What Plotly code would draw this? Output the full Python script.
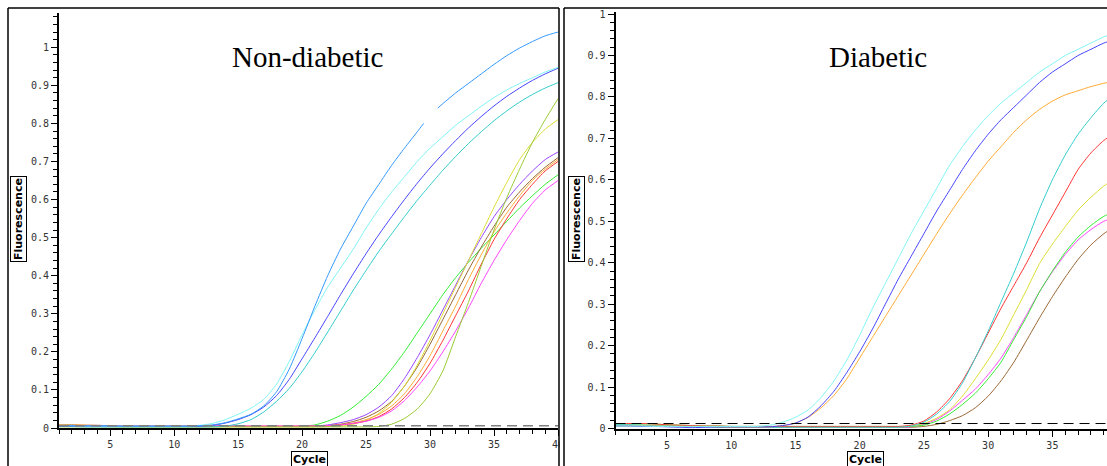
import plotly.graph_objects as go

# qPCR amplification curves (fluorescence per cycle)
cycles = list(range(1, 41))

# Non-diabetic panel
# the sky-blue trace has a short break between ~29.5 and ~30.6
nd_dodger_cycles = list(range(1, 30)) + [29.5, None, 30.6] + list(range(31, 41))
nd_dodger = [0.007, 0.007, 0.006, 0.006, 0.006, 0.005, 0.005, 0.005, 0.005, 0.005,
             0.005, 0.006, 0.008, 0.014, 0.024, 0.036, 0.058, 0.095, 0.155, 0.235,
             0.32, 0.4, 0.47, 0.53, 0.59, 0.64, 0.69, 0.735, 0.778, 0.8, None, 0.84,
             0.852, 0.88, 0.905, 0.93, 0.955, 0.978, 0.998, 1.015, 1.03, 1.04]
nd_lightcyan = [0.006, 0.006, 0.005, 0.005, 0.005, 0.005, 0.005, 0.005, 0.005, 0.005,
                0.005, 0.007, 0.012, 0.022, 0.036, 0.052, 0.075, 0.115, 0.175, 0.245,
                0.31, 0.37, 0.42, 0.47, 0.525, 0.575, 0.62, 0.66, 0.7, 0.735,
                0.765, 0.795, 0.82, 0.845, 0.868, 0.888, 0.905, 0.92, 0.935, 0.947]
nd_blue = [0.005, 0.005, 0.004, 0.004, 0.004, 0.004, 0.004, 0.004, 0.004, 0.004,
           0.004, 0.005, 0.007, 0.013, 0.022, 0.035, 0.055, 0.085, 0.128, 0.182,
           0.237, 0.293, 0.35, 0.405, 0.458, 0.508, 0.555, 0.6, 0.643, 0.683,
           0.72, 0.755, 0.788, 0.818, 0.846, 0.871, 0.893, 0.913, 0.93, 0.945]
nd_turq = [0.004, 0.004, 0.003, 0.003, 0.003, 0.003, 0.003, 0.003, 0.003, 0.003,
           0.003, 0.003, 0.003, 0.005, 0.011, 0.022, 0.042, 0.07, 0.104, 0.148,
           0.198, 0.252, 0.307, 0.362, 0.414, 0.464, 0.51, 0.555, 0.598, 0.638,
           0.677, 0.713, 0.747, 0.778, 0.807, 0.833, 0.856, 0.876, 0.893, 0.907]
nd_green = [0.005, 0.005, 0.004, 0.004, 0.004, 0.004, 0.004, 0.004, 0.004, 0.004,
            0.004, 0.004, 0.004, 0.004, 0.004, 0.004, 0.004, 0.004, 0.004, 0.005,
            0.008, 0.018, 0.033, 0.055, 0.083, 0.115, 0.155, 0.2, 0.25, 0.3,
            0.35, 0.395, 0.435, 0.472, 0.507, 0.543, 0.578, 0.61, 0.64, 0.665]
nd_purple = [0.008, 0.008, 0.007, 0.007, 0.006, 0.006, 0.006, 0.006, 0.005, 0.005,
             0.005, 0.005, 0.005, 0.005, 0.005, 0.004, 0.004, 0.004, 0.004, 0.004,
             0.005, 0.008, 0.014, 0.022, 0.035, 0.055, 0.085, 0.13, 0.185, 0.245,
             0.31, 0.375, 0.44, 0.5, 0.555, 0.6, 0.64, 0.675, 0.705, 0.725]
nd_brown = [0.006, 0.006, 0.006, 0.005, 0.005, 0.005, 0.005, 0.005, 0.005, 0.005,
            0.005, 0.004, 0.004, 0.004, 0.004, 0.004, 0.004, 0.004, 0.004, 0.004,
            0.004, 0.006, 0.01, 0.017, 0.028, 0.045, 0.07, 0.11, 0.16, 0.22,
            0.285, 0.35, 0.415, 0.475, 0.53, 0.58, 0.62, 0.655, 0.685, 0.71]
nd_yellow = [0.004, 0.004, 0.004, 0.004, 0.004, 0.003, 0.003, 0.003, 0.003, 0.003,
             0.003, 0.003, 0.003, 0.003, 0.003, 0.003, 0.003, 0.003, 0.003, 0.003,
             0.003, 0.004, 0.005, 0.01, 0.02, 0.038, 0.068, 0.11, 0.165, 0.23,
             0.3, 0.37, 0.44, 0.51, 0.58, 0.645, 0.705, 0.75, 0.785, 0.81]
nd_orange = [0.009, 0.009, 0.008, 0.007, 0.006, 0.006, 0.005, 0.005, 0.005, 0.005,
             0.005, 0.004, 0.004, 0.004, 0.004, 0.004, 0.004, 0.004, 0.004, 0.004,
             0.004, 0.005, 0.008, 0.013, 0.022, 0.036, 0.058, 0.09, 0.135, 0.19,
             0.255, 0.32, 0.39, 0.455, 0.515, 0.565, 0.61, 0.65, 0.68, 0.705]
nd_red = [0.005, 0.005, 0.005, 0.005, 0.005, 0.005, 0.005, 0.005, 0.005, 0.005,
          0.005, 0.005, 0.005, 0.005, 0.005, 0.005, 0.005, 0.005, 0.005, 0.005,
          0.005, 0.006, 0.008, 0.012, 0.018, 0.03, 0.05, 0.08, 0.12, 0.17,
          0.23, 0.295, 0.36, 0.43, 0.495, 0.55, 0.6, 0.64, 0.675, 0.7]
nd_magenta = [0.006, 0.006, 0.005, 0.005, 0.005, 0.005, 0.005, 0.005, 0.005, 0.005,
              0.005, 0.005, 0.005, 0.005, 0.005, 0.005, 0.005, 0.005, 0.005, 0.005,
              0.005, 0.006, 0.008, 0.012, 0.018, 0.028, 0.045, 0.072, 0.108, 0.15,
              0.2, 0.255, 0.315, 0.38, 0.44, 0.495, 0.545, 0.59, 0.625, 0.65]
nd_olive = [0.003, 0.003, 0.003, 0.003, 0.003, 0.003, 0.003, 0.003, 0.003, 0.003,
            0.003, 0.003, 0.003, 0.003, 0.003, 0.003, 0.003, 0.003, 0.003, 0.003,
            0.003, 0.003, 0.003, 0.003, 0.003, 0.004, 0.01, 0.025, 0.05, 0.09,
            0.15, 0.24, 0.33, 0.425, 0.52, 0.605, 0.68, 0.75, 0.81, 0.865]
nd_threshold = 0.006

# Diabetic panel
db_lightcyan = [0.006, 0.006, 0.006, 0.005, 0.005, 0.005, 0.005, 0.005, 0.005, 0.005,
                0.005, 0.005, 0.008, 0.015, 0.027, 0.045, 0.075, 0.115, 0.165, 0.225,
                0.29, 0.35, 0.41, 0.47, 0.525, 0.58, 0.635, 0.68, 0.72, 0.755,
                0.785, 0.81, 0.835, 0.86, 0.88, 0.9, 0.915, 0.93, 0.945, 0.955]
db_blue = [0.006, 0.006, 0.005, 0.005, 0.004, 0.003, 0.002, 0.003, 0.004, 0.004,
           0.004, 0.004, 0.004, 0.007, 0.013, 0.028, 0.055, 0.09, 0.135, 0.185,
           0.24, 0.3, 0.36, 0.415, 0.47, 0.525, 0.575, 0.625, 0.67, 0.71,
           0.745, 0.775, 0.805, 0.835, 0.86, 0.88, 0.9, 0.915, 0.93, 0.94]
db_orange = [0.006, 0.006, 0.006, 0.006, 0.005, 0.005, 0.005, 0.005, 0.005, 0.004,
             0.004, 0.004, 0.004, 0.007, 0.013, 0.027, 0.05, 0.08, 0.12, 0.17,
             0.22, 0.27, 0.32, 0.37, 0.42, 0.47, 0.518, 0.563, 0.605, 0.645,
             0.68, 0.715, 0.745, 0.77, 0.79, 0.805, 0.815, 0.825, 0.833, 0.84]
db_turq = [0.009, 0.009, 0.008, 0.007, 0.006, 0.005, 0.005, 0.004, 0.004, 0.004,
           0.004, 0.004, 0.003, 0.003, 0.003, 0.003, 0.003, 0.003, 0.003, 0.003,
           0.003, 0.003, 0.003, 0.006, 0.015, 0.035, 0.065, 0.11, 0.17, 0.235,
           0.305, 0.375, 0.45, 0.53, 0.6, 0.66, 0.71, 0.75, 0.785, 0.81]
db_red = [0.012, 0.012, 0.012, 0.011, 0.009, 0.008, 0.007, 0.006, 0.006, 0.005,
          0.005, 0.005, 0.005, 0.005, 0.005, 0.005, 0.005, 0.005, 0.005, 0.005,
          0.005, 0.005, 0.005, 0.008, 0.018, 0.04, 0.072, 0.115, 0.17, 0.23,
          0.29, 0.345, 0.4, 0.46, 0.515, 0.57, 0.625, 0.665, 0.695, 0.715]
db_yellow = [0.008, 0.008, 0.008, 0.007, 0.006, 0.006, 0.005, 0.005, 0.005, 0.004,
             0.004, 0.004, 0.004, 0.004, 0.004, 0.004, 0.004, 0.004, 0.004, 0.004,
             0.004, 0.004, 0.004, 0.006, 0.012, 0.025, 0.045, 0.078, 0.12, 0.165,
             0.215, 0.275, 0.335, 0.398, 0.445, 0.487, 0.527, 0.558, 0.585, 0.605]
db_green = [0.011, 0.011, 0.011, 0.011, 0.009, 0.008, 0.007, 0.006, 0.006, 0.005,
            0.005, 0.005, 0.005, 0.005, 0.005, 0.005, 0.005, 0.005, 0.005, 0.005,
            0.005, 0.005, 0.005, 0.005, 0.008, 0.018, 0.035, 0.058, 0.085, 0.12,
            0.16, 0.215, 0.27, 0.33, 0.38, 0.425, 0.462, 0.49, 0.512, 0.525]
db_magenta = [0.007, 0.007, 0.006, 0.006, 0.005, 0.005, 0.005, 0.005, 0.005, 0.004,
              0.004, 0.004, 0.004, 0.004, 0.004, 0.004, 0.004, 0.004, 0.004, 0.004,
              0.004, 0.004, 0.004, 0.004, 0.01, 0.022, 0.042, 0.068, 0.095, 0.13,
              0.17, 0.22, 0.275, 0.33, 0.378, 0.42, 0.455, 0.48, 0.5, 0.51]
db_brown = [0.007, 0.007, 0.007, 0.006, 0.006, 0.005, 0.005, 0.005, 0.003, 0.003,
            0.003, 0.003, 0.003, 0.003, 0.003, 0.003, 0.003, 0.003, 0.003, 0.003,
            0.003, 0.003, 0.003, 0.003, 0.005, 0.01, 0.019, 0.031, 0.05, 0.078,
            0.115, 0.16, 0.213, 0.267, 0.318, 0.365, 0.408, 0.443, 0.47, 0.49]
db_threshold = 0.012

nd_series = [(nd_green, "#33ee33"), (nd_purple, "#9944ff"), (nd_brown, "#996633"),
             (nd_yellow, "#dddd33"), (nd_orange, "#ffaa33"), (nd_red, "#ff3333"),
             (nd_magenta, "#ff44ff"), (nd_olive, "#99cc33"), (nd_turq, "#33cccc"),
             (nd_blue, "#4444ff"), (nd_lightcyan, "#80f4f4")]
db_series = [(db_brown, "#996633"), (db_magenta, "#ff44ff"), (db_green, "#33ee33"),
             (db_yellow, "#dddd33"), (db_red, "#ff3333"), (db_turq, "#33cccc"),
             (db_orange, "#ffaa33"), (db_blue, "#4444ff"), (db_lightcyan, "#80f4f4")]

W, H = 1107, 466

fig = go.Figure()

for vals, col in nd_series:
    fig.add_trace(go.Scatter(x=cycles, y=vals, mode="lines",
                             line=dict(color=col, width=1, shape="spline", smoothing=0.6),
                             xaxis="x", yaxis="y", showlegend=False))
fig.add_trace(go.Scatter(x=nd_dodger_cycles, y=nd_dodger, mode="lines",
                         line=dict(color="#3399ff", width=1, shape="spline", smoothing=0.6),
                         xaxis="x", yaxis="y", showlegend=False, connectgaps=False))
fig.add_trace(go.Scatter(x=[1, 40], y=[nd_threshold, nd_threshold], mode="lines",
                         line=dict(color="#808080", width=1.5, dash="10px,6px"),
                         xaxis="x", yaxis="y", showlegend=False))

for vals, col in db_series:
    fig.add_trace(go.Scatter(x=cycles, y=vals, mode="lines",
                             line=dict(color=col, width=1, shape="spline", smoothing=0.6),
                             xaxis="x2", yaxis="y2", showlegend=False))
fig.add_trace(go.Scatter(x=[1, 40], y=[db_threshold, db_threshold], mode="lines",
                         line=dict(color="black", width=1, dash="10px,6px"),
                         xaxis="x2", yaxis="y2", showlegend=False))

tick_font = dict(family="DejaVu Sans Mono", size=10, color="#333")
yticks = [0, 0.1, 0.2, 0.3, 0.4, 0.5, 0.6, 0.7, 0.8, 0.9, 1]
ylabels = ["0", "0.1", "0.2", "0.3", "0.4", "0.5", "0.6", "0.7", "0.8", "0.9", "1"]

def xax(domain, rng):
    return dict(domain=domain, range=rng, automargin=False, showline=True, linecolor="black",
                linewidth=2, ticks="outside", ticklen=6, tickcolor="black", tickwidth=1,
                tick0=0, dtick=5, tickfont=tick_font, showgrid=False, zeroline=False,
                minor=dict(ticks="outside", ticklen=4, dtick=1, tick0=0, tickcolor="black", showgrid=False))

def yax(domain, rng):
    return dict(domain=domain, range=rng, automargin=False, showline=True, linecolor="black",
                linewidth=2, ticks="outside", ticklen=6, tickcolor="black", tickwidth=1,
                tickvals=yticks, ticktext=ylabels, tickfont=tick_font,
                showgrid=False, zeroline=False,
                minor=dict(ticks="outside", ticklen=4, dtick=0.02, tick0=0, tickcolor="black", showgrid=False))

fig.update_layout(
    width=W, height=H,
    margin=dict(l=0, r=0, t=0, b=0, pad=0),
    paper_bgcolor="white", plot_bgcolor="white",
    xaxis=dict(xax([59 / W, 558 / W], [1, 40]), anchor="y"),
    yaxis=dict(yax([(H - 428) / H, (H - 13) / H], [0, 1.09]), anchor="x"),
    xaxis2=dict(xax([615.5 / W, 1], [1, 39.25]), anchor="y2"),
    yaxis2=dict(yax([(H - 428.5) / H, (H - 12) / H], [0, 1.005]), anchor="x2"),
)

def px(x, y):
    return x / W, 1 - y / H

annots = []
for text, cx in [("Non-diabetic", 307), ("Diabetic", 877.5)]:
    ax_, ay_ = px(cx, 57)
    annots.append(dict(text=text, x=ax_, y=ay_, xref="paper", yref="paper", showarrow=False,
                       xanchor="center", yanchor="middle",
                       font=dict(family="Liberation Serif", size=29, color="black")))
for cx in [309, 865]:
    ax_, ay_ = px(cx, 459)
    annots.append(dict(text="<b>Cycle</b>", x=ax_, y=ay_, xref="paper", yref="paper",
                       showarrow=False, xanchor="center", yanchor="middle",
                       font=dict(family="DejaVu Sans", size=11, color="black"),
                       bordercolor="black", borderwidth=1, borderpad=1))
for cx in [18, 576]:
    ax_, ay_ = px(cx, 219)
    annots.append(dict(text="<b>Fluorescence</b>", x=ax_, y=ay_, xref="paper", yref="paper",
                       showarrow=False, xanchor="center", yanchor="middle", textangle=-90,
                       font=dict(family="DejaVu Sans", size=11, color="black"),
                       bordercolor="black", borderwidth=1, borderpad=1))
fig.update_layout(annotations=annots)

# panel frames (plus a strip that clips the left "40" label)
shapes = [dict(type="rect", xref="paper", yref="paper", x0=559.5 / W, x1=564 / W,
               y0=1 - 455 / H, y1=1 - 432 / H, fillcolor="white", line=dict(width=0), layer="above")]
for x0, y0, x1, y1 in [(8, 8, 8, 470), (8, 8, 559, 8), (559, 8, 559, 470),
                       (564, 8, 564, 470), (564, 8, 1110, 8)]:
    a0, b0 = px(x0, y0)
    a1, b1 = px(x1, y1)
    shapes.append(dict(type="line", xref="paper", yref="paper", x0=a0, y0=b0, x1=a1, y1=b1,
                       line=dict(color="black", width=1.5), layer="above"))
fig.update_layout(shapes=shapes)

# drop the page's default body margin so the 1107x466 figure fills the window
fig.write_html("out.html", config={"displayModeBar": False},
               post_script="document.body.style.margin='0';document.body.style.overflow='hidden';")
